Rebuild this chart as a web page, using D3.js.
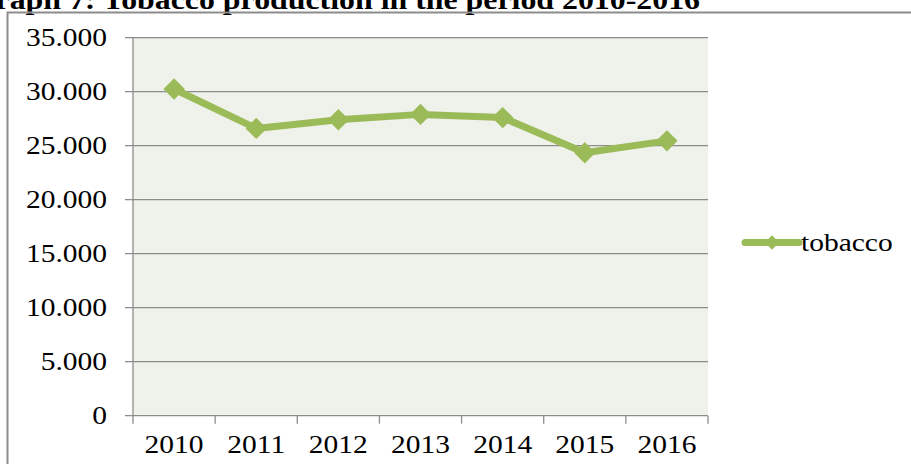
<!DOCTYPE html>
<html lang="en">
<head>
  <meta charset="UTF-8">
  <title>Tobacco production 2010-2016</title>
  <script src="https://d3js.org/d3.v7.min.js"></script>
  <style>
    body {
      margin: 0;
      overflow: hidden;
      background: #ffffff;
    }
    svg {
      position: absolute;
      top: 0;
      left: 0;
    }
    text {
      font-family: "Liberation Serif", "Times New Roman", serif;
      fill: #000000;
    }
  </style>
</head>
<body>
  <svg width="911" height="464"></svg>

  <script>
    // data
    const years = ["2010", "2011", "2012", "2013", "2014", "2015", "2016"];
    const tobacco = [30250, 26600, 27400, 27900, 27600, 24350, 25450];
    const yTicks = [0, 5000, 10000, 15000, 20000, 25000, 30000, 35000];
    const seriesName = "tobacco";

    const svg = d3.select("svg");
    const green = "#9bbb59";
    const sx = 1.18; // the source text is stretched sideways

    const plot = { left: 133, right: 708, top: 37.7, bottom: 415.7 };

    const x = d3.scaleBand().domain(years).range([plot.left, plot.right]);
    const y = d3.scaleLinear().domain([0, 35000]).range([plot.bottom, plot.top]);

    const fmt = v => v === 0 ? "0" : d3.format(",.3f")(v / 1000).replace(",", "");

    // stretched text helper
    function label(g, tx, ty, str, anchor, size, weight) {
      g.append("text")
        .attr("transform", `translate(${tx},${ty}) scale(${sx},1)`)
        .attr("text-anchor", anchor)
        .attr("font-size", size)
        .attr("font-weight", weight || "normal")
        .text(str);
    }

    // title, cut off at the top like the source
    label(svg, 700, 9, "Graph 7: Tobacco production in the period 2010-2016", "end", 27, "bold");

    // outer chart border (left and top)
    svg.append("path")
      .attr("d", "M7.5,464 V12.5 H911")
      .attr("fill", "none")
      .attr("stroke", "#8c8c8c")
      .attr("stroke-width", 2);

    // plot background
    svg.append("rect")
      .attr("x", plot.left)
      .attr("y", plot.top)
      .attr("width", plot.right - plot.left)
      .attr("height", plot.bottom - plot.top)
      .attr("fill", "#eff2eb");

    // grid lines + left ticks
    const grid = svg.append("g");
    grid.selectAll("line")
      .data(yTicks)
      .join("line")
      .attr("x1", plot.left - 8)
      .attr("x2", plot.right)
      .attr("y1", d => y(d))
      .attr("y2", d => y(d))
      .attr("stroke", "#8c8c8c")
      .attr("stroke-width", 1.3);

    const yLabels = svg.append("g");
    yTicks.forEach(t => label(yLabels, 107, y(t) + 8.5, fmt(t), "end", 25));

    // y axis line
    svg.append("line")
      .attr("x1", plot.left).attr("x2", plot.left)
      .attr("y1", plot.top).attr("y2", plot.bottom)
      .attr("stroke", "#8c8c8c")
      .attr("stroke-width", 1.3);

    // x category ticks
    const xTickPos = years.map(d => x(d)).concat([plot.right]);
    svg.append("g").selectAll("line")
      .data(xTickPos)
      .join("line")
      .attr("x1", d => d).attr("x2", d => d)
      .attr("y1", plot.bottom).attr("y2", plot.bottom + 8)
      .attr("stroke", "#8c8c8c")
      .attr("stroke-width", 1.3);

    const xLabels = svg.append("g");
    years.forEach(yr => label(xLabels, x(yr) + x.bandwidth() / 2, 453, yr, "middle", 25));

    // series line
    const line = d3.line()
      .x((d, i) => x(years[i]) + x.bandwidth() / 2)
      .y(d => y(d));

    svg.append("path")
      .datum(tobacco)
      .attr("d", line)
      .attr("fill", "none")
      .attr("stroke", green)
      .attr("stroke-width", 7)
      .attr("stroke-linejoin", "round");

    const diamond = d3.symbol().type(d3.symbolDiamond2).size(290);
    svg.append("g").selectAll("path")
      .data(tobacco)
      .join("path")
      .attr("transform", (d, i) => `translate(${x(years[i]) + x.bandwidth() / 2},${y(d)})`)
      .attr("d", diamond)
      .attr("fill", green);

    // legend
    const lg = svg.append("g");
    lg.append("line")
      .attr("x1", 745).attr("x2", 799)
      .attr("y1", 242.5).attr("y2", 242.5)
      .attr("stroke", green)
      .attr("stroke-width", 7)
      .attr("stroke-linecap", "round");
    lg.append("path")
      .attr("transform", "translate(772,242.5)")
      .attr("d", d3.symbol().type(d3.symbolDiamond2).size(130))
      .attr("fill", green);
    label(lg, 801, 250.5, seriesName, "start", 25);
  </script>
</body>
</html>
